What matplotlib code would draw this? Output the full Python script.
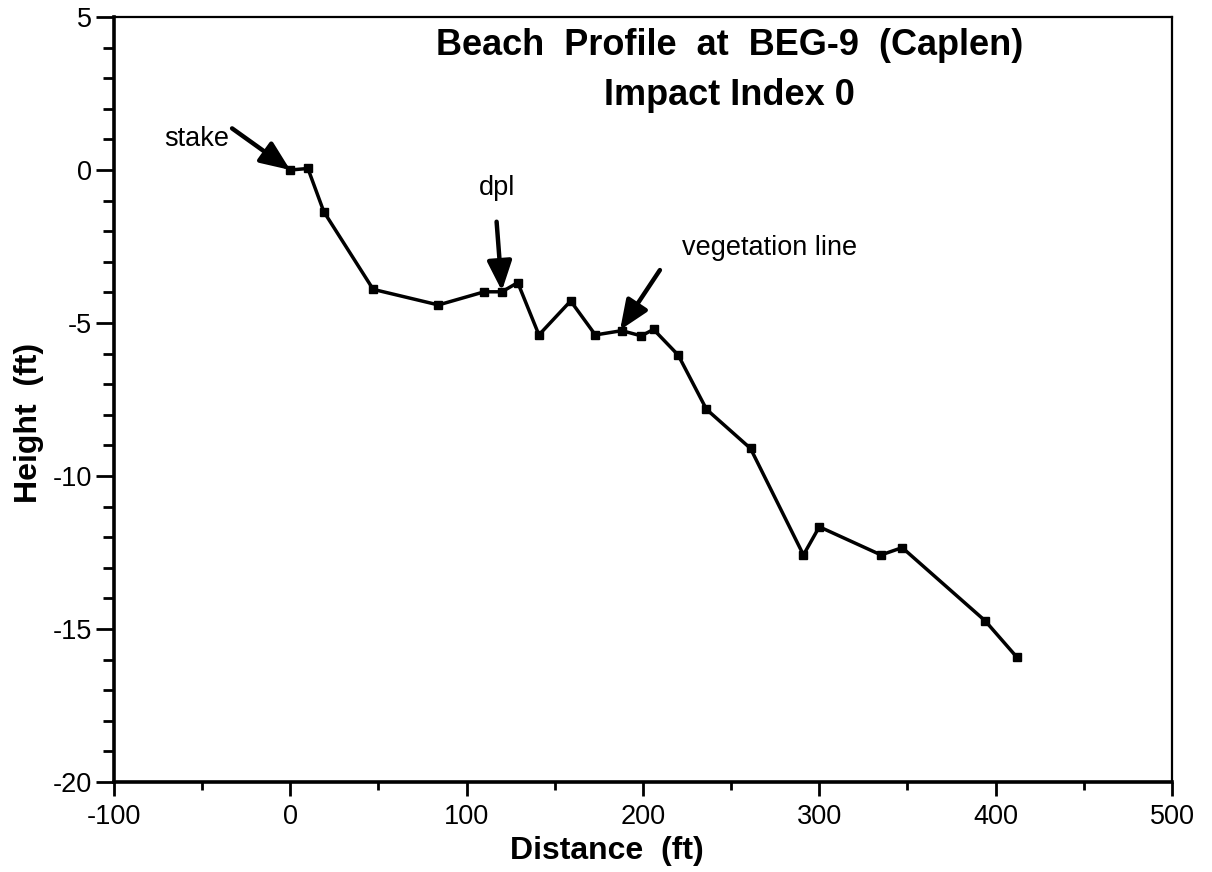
import matplotlib
matplotlib.use("Agg")
import matplotlib.pyplot as plt

plt.rcParams["font.family"] = ["Liberation Sans", "DejaVu Sans"]
plt.rcParams["axes.unicode_minus"] = False

# beach profile survey points
distance = [0, 10, 19, 47, 84, 110, 120, 129, 141, 159, 173, 188, 199, 206,
            220, 236, 261, 291, 300, 335, 347, 394, 412]
height = [0.0, 0.05, -1.36, -3.90, -4.41, -3.98, -3.98, -3.68, -5.39, -4.28,
          -5.39, -5.25, -5.42, -5.21, -6.05, -7.82, -9.10, -12.58, -11.66,
          -12.58, -12.34, -14.73, -15.92]

# annotations: label, text position, arrow tail, arrow tip
notes = [
    ("stake", (-53, 1.0), (-33, 1.36), (0, 0.0)),
    ("dpl", (117, -0.6), (117, -1.69), (120, -3.95)),
    ("vegetation line", (222, -2.55), (209.6, -3.27), (187, -5.23)),
]

fig = plt.figure(figsize=(12.12, 8.72), dpi=100)
ax = fig.add_axes([0.094, 0.1032, 0.873, 0.8773])

ax.plot(distance, height, "-s", color="black", lw=2.5, ms=6,
        markerfacecolor="black", markeredgecolor="black")

for label, txt, tail, tip in notes:
    ha = "left" if label == "vegetation line" else "center"
    ax.text(txt[0], txt[1], label, fontsize=19.5, ha=ha, va="center")
    ax.annotate("", xy=tip, xytext=tail,
                arrowprops=dict(arrowstyle="-|>,head_length=1.8,head_width=0.75",
                                color="black", lw=3.2, shrinkA=0, shrinkB=0))

ax.text(0.582, 0.963, "Beach  Profile  at  BEG-9  (Caplen)", transform=ax.transAxes,
        fontsize=26, fontweight="bold", ha="center", va="center")
ax.text(0.582, 0.897, "Impact Index 0", transform=ax.transAxes,
        fontsize=26, fontweight="bold", ha="center", va="center")

ax.set_xlim(-100, 500)
ax.set_ylim(-20, 5)
ax.set_xticks(range(-100, 501, 100))
ax.set_xticks(range(-50, 500, 100), minor=True)
ax.set_yticks(range(-20, 6, 5))
ax.set_yticks(range(-20, 6, 1), minor=True)

ax.tick_params(axis="x", which="major", length=10, width=2, labelsize=19.5, pad=6)
ax.tick_params(axis="x", which="minor", length=6, width=2)
ax.tick_params(axis="y", which="major", length=13, width=2, labelsize=19.5, pad=3)
ax.tick_params(axis="y", which="minor", length=8, width=2)

ax.set_xlabel("Distance  (ft)", fontsize=23, fontweight="bold")
ax.set_ylabel("Height  (ft)", fontsize=23, fontweight="bold")
ax.xaxis.set_label_coords(0.466, -0.071)
ax.yaxis.set_label_coords(-0.066, 0.469)

for side in ("left", "bottom"):
    ax.spines[side].set_linewidth(2.6)
for side in ("top", "right"):
    ax.spines[side].set_linewidth(1.6)

fig.savefig("out.png", dpi=100)
